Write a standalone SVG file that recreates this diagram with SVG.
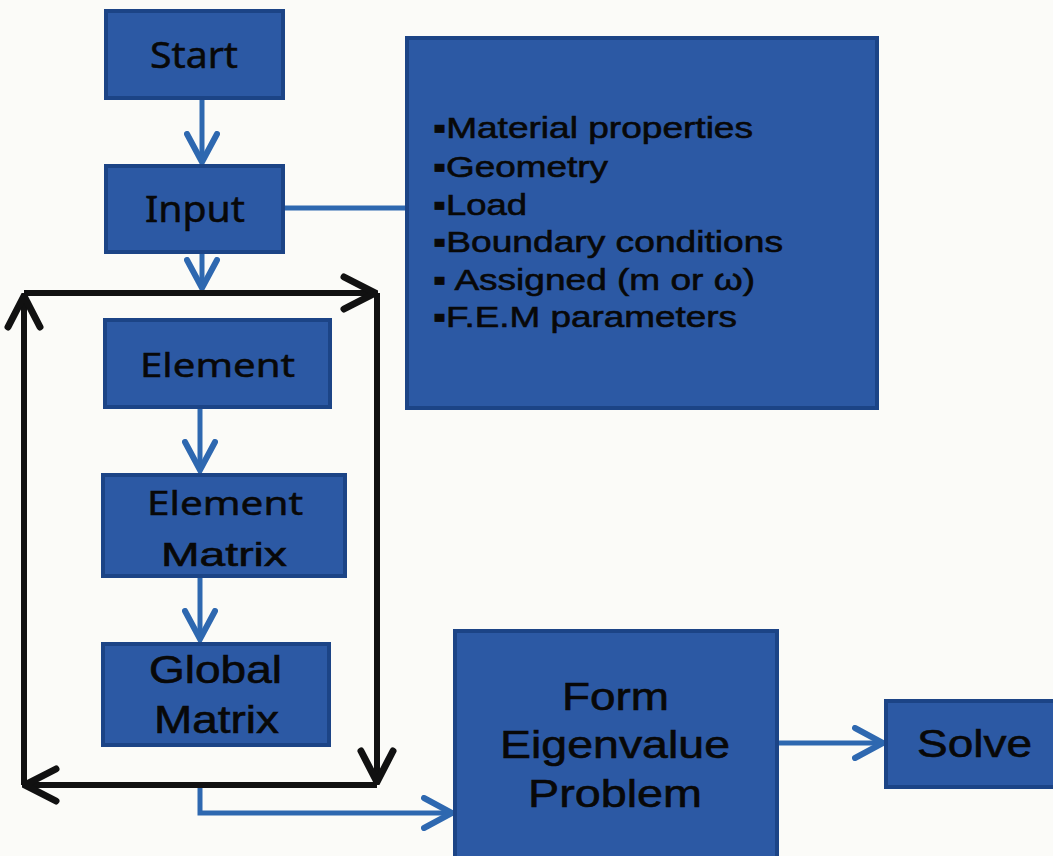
<svg xmlns="http://www.w3.org/2000/svg" width="1053" height="856" viewBox="0 0 1053 856">
<style>
.box{fill:#2c59a4;stroke:#1c4486;stroke-width:4}
.lblS{font-family:"Noto Sans","Open Sans",sans-serif;fill:#080808;stroke:#080808;stroke-width:0.5}
.lblA{font-family:"Liberation Sans",Arial,sans-serif;fill:#080808;stroke:#080808;stroke-width:0.6}
.blue{fill:none;stroke:#2e68b0;stroke-width:5}
.black{fill:none;stroke:#111;stroke-width:6}
</style>
<defs>
<marker id="ab" markerUnits="userSpaceOnUse" viewBox="0 0 34 36" markerWidth="34" markerHeight="36" refX="31" refY="18" orient="auto">
<path d="M3,3 L31,18 L3,33" fill="none" stroke="#2e68b0" stroke-width="6" stroke-linecap="round" stroke-linejoin="miter"/>
</marker>
<marker id="ak" markerUnits="userSpaceOnUse" viewBox="0 0 38 40" markerWidth="38" markerHeight="40" refX="35" refY="20" orient="auto">
<path d="M4,4 L35,20 L4,36" fill="none" stroke="#111" stroke-width="7" stroke-linecap="round" stroke-linejoin="miter"/>
</marker>
</defs>
<rect width="1053" height="856" fill="#fbfbf8"/>
<g id="connectors">
<path class="blue" d="M202,98 L202,162" marker-end="url(#ab)"/>
<path class="blue" d="M283,208 L407,208"/>
<path class="blue" d="M202,252 L202,288" marker-end="url(#ab)"/>
<path class="blue" d="M200,407 L200,470" marker-end="url(#ab)"/>
<path class="blue" d="M200,576 L200,639" marker-end="url(#ab)"/>
<path class="blue" d="M200,787 L200,813 L452,813" marker-end="url(#ab)"/>
<path class="blue" d="M777,743 L883,743" marker-end="url(#ab)"/>
<path class="black" d="M24,293 L375,293" marker-end="url(#ak)"/>
<path class="black" d="M377,293 L377,782" marker-end="url(#ak)"/>
<path class="black" d="M377,785 L25,785" marker-end="url(#ak)"/>
<path class="black" d="M24,785 L24,296" marker-end="url(#ak)"/>
</g>
<g id="start">
<rect class="box" x="106" y="11" width="177" height="87"/>
<text class="lblS" x="150" y="68" font-size="36" textLength="88" lengthAdjust="spacingAndGlyphs">Start</text>
</g>
<g id="input">
<rect class="box" x="106" y="166" width="177" height="86"/>
<text class="lblS" x="145" y="222" font-size="36" textLength="100" lengthAdjust="spacingAndGlyphs">Input</text>
</g>
<g id="info">
<rect class="box" x="407" y="38" width="470" height="370"/>
<text class="lblA" font-size="30"><tspan x="433" y="138" textLength="320" lengthAdjust="spacingAndGlyphs">▪Material properties</tspan></text>
<text class="lblA" font-size="30"><tspan x="433" y="177" textLength="175" lengthAdjust="spacingAndGlyphs">▪Geometry</tspan></text>
<text class="lblA" font-size="30"><tspan x="433" y="215" textLength="94" lengthAdjust="spacingAndGlyphs">▪Load</tspan></text>
<text class="lblA" font-size="30"><tspan x="433" y="252" textLength="350" lengthAdjust="spacingAndGlyphs">▪Boundary conditions</tspan></text>
<text class="lblA" font-size="30"><tspan x="433" y="290" textLength="322" lengthAdjust="spacingAndGlyphs">▪ Assigned (m or ω)</tspan></text>
<text class="lblA" font-size="30"><tspan x="433" y="327" textLength="304" lengthAdjust="spacingAndGlyphs">▪F.E.M parameters</tspan></text>
</g>
<g id="element">
<rect class="box" x="105" y="320" width="225" height="87"/>
<text class="lblS" x="140" y="377" font-size="33" textLength="155" lengthAdjust="spacingAndGlyphs">Element</text>
</g>
<g id="element-matrix">
<rect class="box" x="103" y="475" width="242" height="101"/>
<text class="lblS" x="147" y="515" font-size="33" textLength="156" lengthAdjust="spacingAndGlyphs">Element</text>
<text class="lblA" x="161" y="566" font-size="34" textLength="126" lengthAdjust="spacingAndGlyphs">Matrix</text>
</g>
<g id="global-matrix">
<rect class="box" x="103" y="644" width="226" height="101"/>
<text class="lblA" x="149" y="683" font-size="38" textLength="133" lengthAdjust="spacingAndGlyphs">Global</text>
<text class="lblA" x="154" y="733" font-size="38" textLength="125" lengthAdjust="spacingAndGlyphs">Matrix</text>
</g>
<g id="form">
<rect class="box" x="455" y="631" width="322" height="240"/>
<text class="lblA" x="562" y="710" font-size="39" textLength="107" lengthAdjust="spacingAndGlyphs">Form</text>
<text class="lblA" x="500" y="758" font-size="39" textLength="230" lengthAdjust="spacingAndGlyphs">Eigenvalue</text>
<text class="lblA" x="528" y="807" font-size="39" textLength="174" lengthAdjust="spacingAndGlyphs">Problem</text>
</g>
<g id="solve">
<rect class="box" x="886" y="701" width="180" height="86"/>
<text class="lblA" x="917" y="757" font-size="38" textLength="115" lengthAdjust="spacingAndGlyphs">Solve</text>
</g>
</svg>
